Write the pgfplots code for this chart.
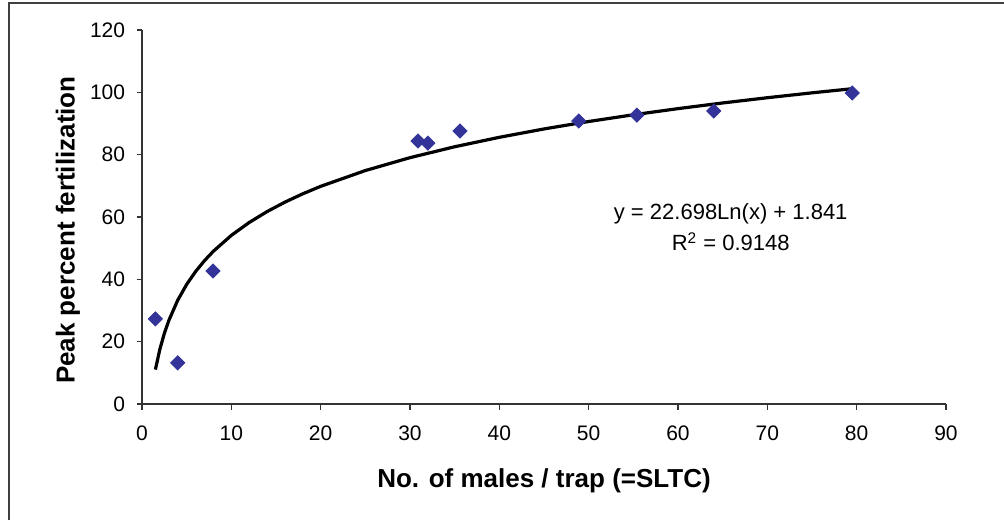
\documentclass[border=0pt]{standalone}
\usepackage{pgfplots}
\pgfplotsset{compat=1.18}
\usepackage{fontspec}
\setmainfont{Liberation Sans}

\definecolor{markblue}{HTML}{333399}

\begin{document}
\begin{tikzpicture}
  % chart area frame (right and bottom edges fall outside the picture)
  \useasboundingbox (0,0) rectangle (502pt,260pt);
  \draw[line width=1pt, black!75] (4.5pt,0pt) -- (4.5pt,258.5pt) -- (502pt,258.5pt);
  \begin{axis}[
    at={(71pt,58pt)}, anchor=south west,
    scale only axis,
    width=402pt, height=187pt,
    xmin=0, xmax=90, ymin=0, ymax=120,
    xtick={0,10,...,90}, ytick={0,20,...,120},
    axis x line=bottom, axis y line=left,
    hide obscured x ticks=false, hide obscured y ticks=false,
    axis line style={-, line width=0.6pt, black!80},
    tick align=outside, major tick length=2.75pt,
    every tick/.style={black!80, line width=0.6pt},
    /pgf/number format/assume math mode=true,
    ticklabel style={font=\fontsize{10.5}{12}\selectfont, inner sep=0pt},
    yticklabel style={anchor=east, xshift=-5.5pt},
    xticklabel style={anchor=north, yshift=-8pt},
    xlabel={No. of males / trap (=SLTC)},
    ylabel={Peak percent fertilization},
    label style={font=\fontsize{13}{15}\selectfont\bfseries},
    xlabel style={at={([yshift=-38.5pt]axis description cs:0.5,0)}, anchor=center},
    ylabel style={at={([xshift=-37pt]axis description cs:0,0.465)}, anchor=center},
    clip=false,
  ]
    % logarithmic trendline, values read at chosen x
    \addplot[line width=1.6pt, black] coordinates {
      (1.5,11.05) (2,17.57) (2.5,22.64) (3,26.78) (4,33.31) (5,38.37)
      (6,42.51) (7,46.01) (8,49.04) (10,54.11) (12,58.24) (14,61.74)
      (16,64.77) (18,67.45) (20,69.84) (25,74.90) (30,79.04) (35,82.54)
      (40,85.57) (45,88.25) (50,90.64) (55,92.80) (60,94.77) (65,96.59)
      (70,98.27) (75,99.84) (79.5,101.16)
    };
    % observations
    \addplot[only marks, mark=square*, mark size=2.5pt,
      mark options={rotate=45, fill=markblue, draw=markblue}] coordinates {
      (1.5,27.3) (4,13.2) (7.95,42.7) (30.9,84.4) (32,83.7)
      (35.6,87.6) (48.9,90.8) (55.4,92.7) (64,94) (79.5,99.8)
    };
    \node[align=center, font=\fontsize{11}{15.5}\selectfont]
      at (axis cs:65.9,56.6) {y = 22.698Ln(x) + 1.841\\R\textsuperscript{2} = 0.9148};
  \end{axis}
\end{tikzpicture}
\end{document}
